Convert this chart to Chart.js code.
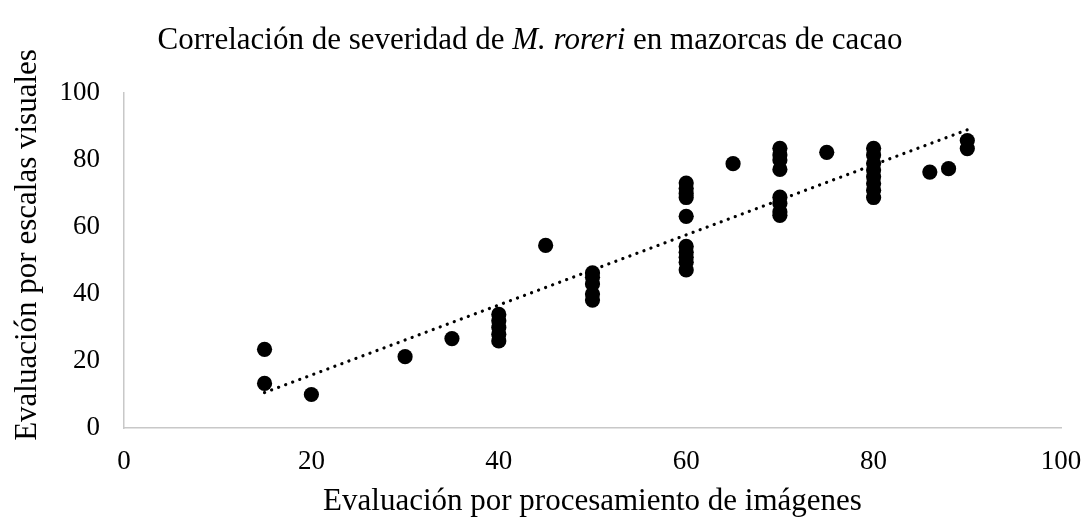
<!DOCTYPE html>
<html>
<head>
<meta charset="utf-8">
<script src="https://cdn.jsdelivr.net/npm/chart.js@4.4.1/dist/chart.umd.min.js"></script>
<style>
html,body{margin:0;padding:0;background:#fff;}
#wrap{width:1086px;height:518px;position:relative;}
</style>
</head>
<body>
<div id="wrap"><canvas id="c" width="1086" height="518"></canvas></div>
<script>
// ---- data ----
const chartTitle = ['Correlación de severidad de ', 'M. roreri', ' en mazorcas de cacao'];
const xAxisTitle = 'Evaluación por procesamiento de imágenes';
const yAxisTitle = 'Evaluación por escalas visuales';
const xTicks = [0, 20, 40, 60, 80, 100];
const yTicks = [0, 20, 40, 60, 80, 100];
const imageEval = [
  15, 15, 20, 30, 35,
  40, 40, 40, 40, 40,
  45,
  50, 50, 50, 50, 50,
  60, 60, 60, 60, 60, 60, 60, 60, 60, 60,
  65,
  70, 70, 70, 70, 70, 70, 70, 70,
  75,
  80, 80, 80, 80, 80, 80, 80, 80,
  86, 88, 90, 90
];
const visualEval = [
  23.5, 13.3, 10.0, 21.3, 26.7,
  33.9, 32.0, 30.0, 28.0, 26.0,
  54.5,
  46.3, 45.0, 43.0, 40.0, 38.2,
  73.1, 71.5, 70.0, 68.8, 63.2, 54.2, 52.5, 51.0, 49.5, 47.2,
  78.9,
  83.5, 81.5, 80.0, 77.2, 68.9, 67.0, 64.5, 63.5,
  82.3,
  83.5, 81.5, 79.0, 77.0, 75.0, 73.0, 71.0, 68.8,
  76.4, 77.4, 85.8, 83.4
];

// ---- linear trend (least squares) ----
const n = imageEval.length;
const mx = imageEval.reduce((a, b) => a + b, 0) / n;
const my = visualEval.reduce((a, b) => a + b, 0) / n;
let sxy = 0, sxx = 0;
for (let i = 0; i < n; i++) { sxy += (imageEval[i] - mx) * (visualEval[i] - my); sxx += (imageEval[i] - mx) ** 2; }
const slope = sxy / sxx, icpt = my - slope * mx;
const xMin = Math.min(...imageEval), xMax = Math.max(...imageEval);
const trend = [{x: xMin, y: icpt + slope * xMin}, {x: xMax, y: icpt + slope * xMax}];

const points = imageEval.map((x, i) => ({x, y: visualEval[i]}));

const FONT = '"Liberation Serif", "Times New Roman", serif';

const textPlugin = {
  id: 'texts',
  afterDraw(chart) {
    const ctx = chart.ctx;
    ctx.save();
    ctx.fillStyle = '#000';
    // main title with italic species name
    ctx.textBaseline = 'alphabetic';
    ctx.textAlign = 'left';
    const fonts = ['31px ' + FONT, 'italic 31px ' + FONT, '31px ' + FONT];
    const widths = chartTitle.map((t, i) => { ctx.font = fonts[i]; return ctx.measureText(t).width; });
    const total = widths.reduce((a, b) => a + b, 0);
    let x = 530 - total / 2;
    chartTitle.forEach((t, i) => { ctx.font = fonts[i]; ctx.fillText(t, x, 49); x += widths[i]; });
    // y axis title
    ctx.font = '31px ' + FONT;
    ctx.textAlign = 'center';
    ctx.textBaseline = 'middle';
    ctx.translate(27.5, 245);
    ctx.rotate(-Math.PI / 2);
    ctx.fillText(yAxisTitle, 0, 0);
    ctx.restore();
  }
};

new Chart(document.getElementById('c'), {
  type: 'scatter',
  data: {
    datasets: [
      {
        label: 'Severidad',
        data: points,
        backgroundColor: '#000',
        borderColor: '#000',
        borderWidth: 0,
        pointRadius: 7.6,
        pointHoverRadius: 7.6,
        order: 2
      },
      {
        label: 'Lineal',
        type: 'line',
        data: trend,
        showLine: true,
        borderColor: '#000',
        borderWidth: 3.2,
        borderDash: [0.1, 7.4],
        borderCapStyle: 'round',
        pointRadius: 0,
        fill: false,
        order: 1
      }
    ]
  },
  options: {
    responsive: false,
    devicePixelRatio: 1,
    animation: false,
    events: [],
    layout: { padding: { top: 93, right: 25, bottom: 0, left: 0 } },
    plugins: { legend: { display: false }, title: { display: false }, tooltip: { enabled: false } },
    scales: {
      x: {
        type: 'linear',
        min: 0, max: 100,
        afterBuildTicks: s => { s.ticks = xTicks.map(v => ({value: v})); },
        afterFit: s => { s.height = 90; s.paddingLeft = 0; s.paddingRight = 0; },
        grid: { display: false, drawTicks: false },
        border: { display: true, color: '#c8c8c8', width: 1.5 },
        ticks: { color: '#000', padding: 18, font: { family: FONT, size: 27 }, maxRotation: 0 },
        title: { display: true, text: xAxisTitle, color: '#000', font: { family: FONT, size: 31, lineHeight: 1 }, padding: { top: 0, bottom: 1 } }
      },
      y: {
        type: 'linear',
        min: 0, max: 100,
        afterBuildTicks: s => { s.ticks = yTicks.map(v => ({value: v})); },
        afterFit: s => { s.width = 124; s.paddingTop = 0; s.paddingBottom = 0; },
        grid: { display: false, drawTicks: false },
        border: { display: true, color: '#c8c8c8', width: 1.5 },
        ticks: { color: '#000', padding: 24, font: { family: FONT, size: 27 } }
      }
    }
  },
  plugins: [textPlugin]
});
</script>
</body>
</html>
